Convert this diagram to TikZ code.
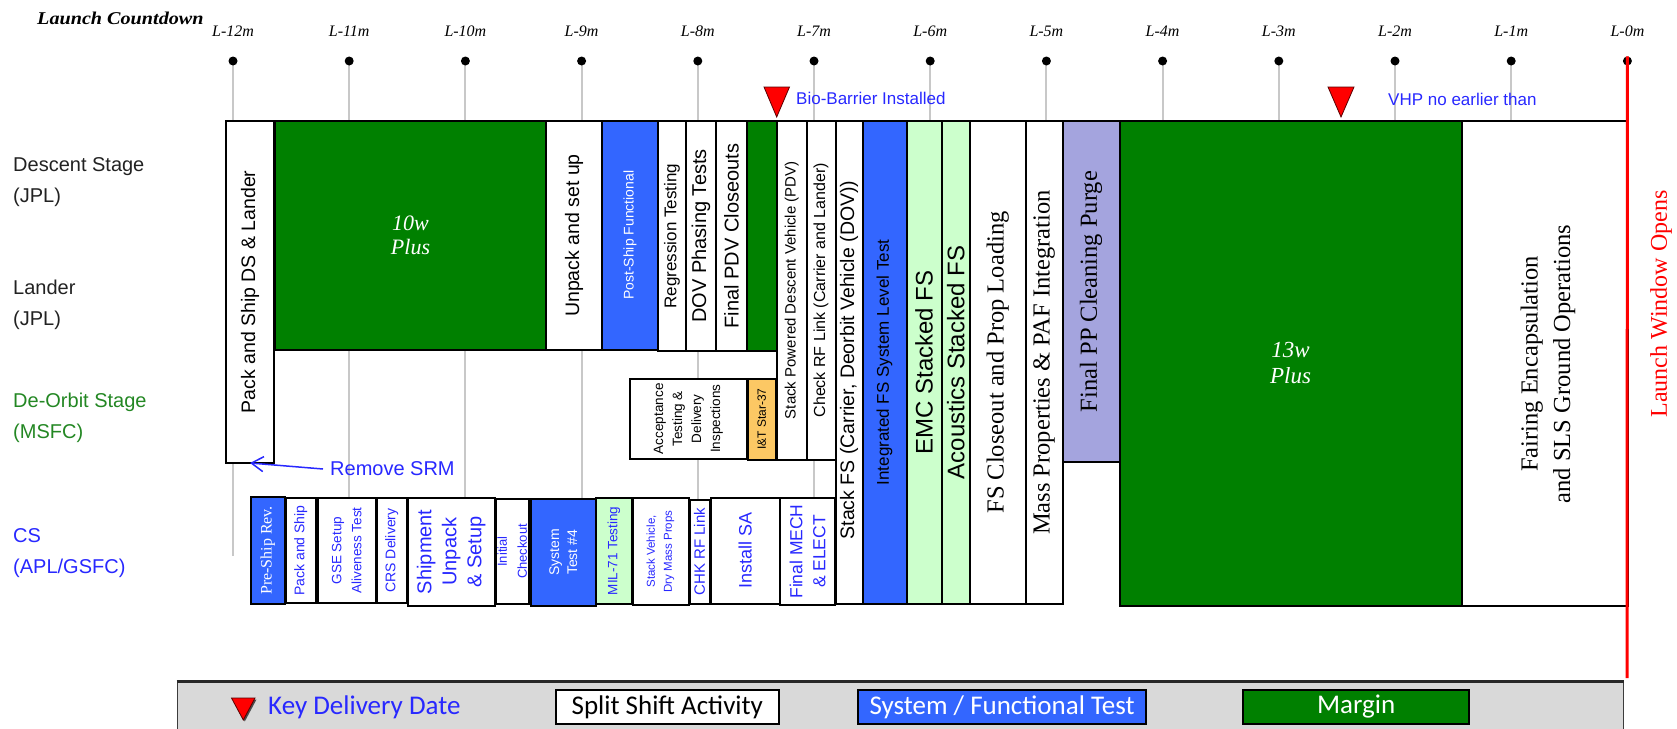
\documentclass[tikz,border=0pt]{standalone}
\usepackage{fontspec}
\setmainfont{Liberation Serif}
\setsansfont{Liberation Sans}
\newfontfamily\legendfont{Carlito}
\usetikzlibrary{arrows.meta}

\definecolor{margin}{RGB}{0,128,0}
\definecolor{sysblue}{RGB}{51,102,255}
\definecolor{paleg}{RGB}{204,255,204}
\definecolor{lav}{RGB}{164,164,222}
\definecolor{starorange}{RGB}{252,200,100}
\definecolor{txtblue}{RGB}{40,40,255}
\definecolor{deorbit}{RGB}{35,135,35}
\definecolor{tickgrey}{RGB}{200,200,200}
\definecolor{legbg}{RGB}{217,217,217}
\definecolor{rowtext}{RGB}{34,34,34}
\definecolor{legedge}{RGB}{60,60,60}
\definecolor{legtop}{RGB}{40,40,40}
\definecolor{tridark}{RGB}{90,0,0}

\newcommand\fz[2]{\fontsize{#1}{#2}\selectfont}
% box: name, style, x1, y1, x2, y2 (pixel coordinates, y downwards)
\newcommand\bx[6]{\node[#2, anchor=north west, minimum width={(#5)-(#3)}, minimum height={(#6)-(#4)}] (#1) at (#3,#4) {};}
% rotated caption centred on a box
\newcommand\vtx[3]{\node[vt, #2] (#1-t) at (#1.center) {#3};}

\begin{document}
\begin{tikzpicture}[x=1pt, y=-1pt,
  box/.style={draw=black, line width=2pt, inner sep=0pt, outer sep=0pt},
  wbox/.style={box, fill=white},
  gbox/.style={box, fill=margin},
  bbox/.style={box, fill=sysblue},
  lgbox/.style={box, fill=paleg},
  lavbox/.style={box, fill=lav},
  obox/.style={box, fill=starorange},
  vt/.style={rotate=90, align=center, inner sep=0pt},
  sans/.style={font=\sffamily\fz{#1}{#1}},
  tickline/.style={draw=tickgrey, line width=2pt},
  keytri/.style={fill=red, draw=tridark, line width=0.8pt},
  srmarrow/.style={draw=txtblue, line width=1.5pt, -{Straight Barb[length=12pt, width=15pt, line width=1.5pt]}},
  legbox/.style={draw=black, line width=2pt, minimum width=#1, minimum height=34, inner sep=0pt},
  legtext/.style={font=\legendfont\fz{27}{30}},
  rowlab/.style={anchor=west, align=left, inner sep=0pt, font=\sffamily\fz{20}{31}}
]
\useasboundingbox (0,0) rectangle (1677,728);

% ---------- timeline heading and month ticks ----------
\node[anchor=west, inner sep=0pt] (title) at (37,18)
  {\scalebox{1.12}[1]{\fz{18}{21}\bfseries\itshape Launch Countdown}};
\foreach \i in {0,...,12}{
  \pgfmathsetmacro\xx{233+116.2*\i}
  \pgfmathtruncatemacro\m{12-\i}
  \node[font=\fz{16}{19}\itshape, inner sep=0pt] (lab\i) at (\xx,31) {L-\m m};
  \coordinate (foot\i) at (\xx,556);
  \ifnum\i<12 \draw[tickline] (\xx,61) -- (foot\i); \fi
  \node[circle, fill=black, inner sep=0pt, minimum size=9] (dot\i) at (\xx,61) {};
}

% ---------- row labels ----------
\node[rowlab, text=rowtext] (rDS) at (13,182) {Descent Stage\\(JPL)};
\node[rowlab, text=rowtext] (rLA) at (13,305) {Lander\\(JPL)};
\node[rowlab, text=deorbit] (rDO) at (13,418) {De-Orbit Stage\\(MSFC)};
\node[rowlab, text=txtblue] (rCS) at (13,553) {CS\\(APL/GSFC)};

% ---------- upper activities ----------
\bx{pack}{wbox}{226}{121}{274}{463}
\bx{m10}{gbox}{275}{121}{546}{350}
\bx{unpack}{wbox}{546}{121}{602}{350}
\bx{psf}{bbox}{602}{121}{658}{349.5}
\bx{regr}{wbox}{658}{121}{686}{351}
\bx{dov}{wbox}{686}{121}{716}{351}
\bx{pdvc}{wbox}{716}{121}{747}{351}
\bx{m1}{gbox}{747}{121}{777}{351}
\bx{spdv}{wbox}{777}{121}{806.5}{459.5}
\bx{crf}{wbox}{806.5}{121}{835.5}{459.5}
\bx{sfs}{wbox}{835.5}{121}{862.5}{604}
\bx{ifs}{bbox}{862.5}{121}{906.5}{604}
\bx{emc}{lgbox}{906.5}{121}{941.5}{604}
\bx{acou}{lgbox}{941.5}{121}{970}{604}
\bx{fscl}{wbox}{970}{121}{1025.5}{604}
\bx{mass}{wbox}{1025.5}{121}{1062.5}{604}
\bx{fpp}{lavbox}{1062.5}{121}{1119.5}{462}
\bx{m13}{gbox}{1119.5}{121}{1461.5}{606}
\bx{fair}{wbox}{1461.5}{121}{1628}{606}
\bx{acc}{wbox}{629.5}{379}{747}{458.5}
\bx{star}{obox}{748}{378.5}{775.5}{460}

\vtx{pack}{sans=19.5}{Pack and Ship DS \& Lander}
\node[align=center, text=white, font=\fz{22}{24}\itshape] (m10-t) at (m10.center) {10w\\Plus};
\vtx{unpack}{sans=19.5}{Unpack and set up}
\vtx{psf}{sans=14, text=white}{Post-Ship Functional}
\vtx{regr}{sans=17}{Regression Testing}
\vtx{dov}{sans=20}{DOV Phasing Tests}
\vtx{pdvc}{sans=20}{Final PDV Closeouts}
\vtx{spdv}{sans=15}{Stack Powered Descent Vehicle (PDV)}
\vtx{crf}{sans=16}{Check RF Link (Carrier and Lander)}
\node[vt, sans=19.5] (sfs-t) at (849,360) {Stack FS (Carrier, Deorbit Vehicle (DOV))};
\vtx{ifs}{sans=17}{Integrated FS System Level Test}
\vtx{emc}{sans=24}{EMC Stacked FS}
\vtx{acou}{sans=24}{Acoustics Stacked FS}
\vtx{fscl}{font=\fz{24.5}{28}}{FS Closeout and Prop Loading}
\vtx{mass}{font=\fz{24.5}{28}}{Mass Properties \& PAF Integration}
\vtx{fpp}{font=\fz{24.5}{28}}{Final PP Cleaning Purge}
\node[align=center, text=white, font=\fz{23}{26}\itshape] (m13-t) at (m13.center) {13w\\Plus};
\node[vt, font=\fz{24.5}{32.5}] (fair-t) at (1548,364) {Fairing Encapsulation\\and SLS Ground Operations};
\vtx{acc}{font=\sffamily\fz{13.5}{19}}{Acceptance\\Testing \&\\Delivery\\Inspections}
\vtx{star}{sans=12}{I\&T Star-37}

% ---------- CS activities ----------
\bx{psr}{bbox}{251}{497}{284.5}{604}
\bx{cpack}{wbox}{285.5}{498}{316}{603}
\bx{gse}{wbox}{318}{498}{375.5}{603}
\bx{crs}{wbox}{376.5}{498}{407}{603}
\bx{ship}{wbox}{408}{498}{494.5}{605.5}
\bx{init}{wbox}{495.5}{499}{529}{604}
\bx{st4}{bbox}{530.5}{499}{596}{605.5}
\bx{mil}{lgbox}{596}{498}{632}{603.5}
\bx{svdm}{wbox}{632.5}{498}{688.5}{605}
\bx{chk}{wbox}{689.5}{500}{709.5}{603.5}
\bx{isa}{wbox}{711}{498}{779.5}{603.5}
\bx{fme}{wbox}{780}{498}{835}{605}

\vtx{psr}{font=\fz{16}{18}, text=white}{Pre-Ship Rev.}
\vtx{cpack}{sans=14, text=txtblue}{Pack and Ship}
\vtx{gse}{font=\sffamily\fz{13.5}{20}, text=txtblue}{GSE Setup\\Aliveness Test}
\vtx{crs}{sans=14, text=txtblue}{CRS Delivery}
\vtx{ship}{font=\sffamily\fz{20}{25}, text=txtblue}{Shipment\\Unpack\\\& Setup}
\vtx{init}{font=\sffamily\fz{13}{20}, text=txtblue}{Initial\\Checkout}
\vtx{st4}{font=\sffamily\fz{14}{18}, text=white}{System\\Test \#4}
\vtx{mil}{sans=13.5, text=txtblue}{MIL-71 Testing}
\vtx{svdm}{font=\sffamily\fz{11.5}{17}, text=txtblue}{Stack Vehicle,\\Dry Mass Props}
\vtx{chk}{sans=15, text=txtblue}{CHK RF Link}
\vtx{isa}{sans=18, text=txtblue}{Install SA}
\vtx{fme}{font=\sffamily\fz{17.5}{23}, text=txtblue}{Final MECH\\\& ELECT}

% ---------- annotations ----------
\node[anchor=west, inner sep=0pt, text=txtblue, sans=20] (srm) at (323,469) {\hspace{7pt}Remove SRM};
\draw[srmarrow] (srm.west) -- (pack.south);

\coordinate (bioL) at (764,87);
\coordinate (bioR) at (789.5,87);
\coordinate (bioA) at (776.7,117);
\draw[keytri] (bioL) -- (bioR) -- (bioA) -- cycle;
\node[anchor=west, inner sep=0pt, text=txtblue, sans=17] (bio) at (796,98) {Bio-Barrier Installed};

\coordinate (vhpL) at (1328,87);
\coordinate (vhpR) at (1354,87);
\coordinate (vhpA) at (1341,117);
\draw[keytri] (vhpL) -- (vhpR) -- (vhpA) -- cycle;
\node[anchor=west, inner sep=0pt, text=txtblue, sans=17] (vhp) at (1388,99) {VHP no earlier than};

% launch window
\coordinate (redfoot) at (1627,678);
\draw[red, line width=3pt] (dot12.north) -- (redfoot);
\node[vt, text=red, font=\fz{24}{27}] (lwo) at (1661,304) {Launch Window Opens};

% ---------- legend ----------
\node[draw=legedge, line width=1pt, fill=legbg, anchor=north west,
      minimum width=1446, minimum height=60, inner sep=0pt] (legend) at (176.5,681) {};
\draw[line width=3pt, legtop] (legend.north west) -- (legend.north east);

\coordinate (kL) at (231.5,698);
\coordinate (kR) at (255,698);
\coordinate (kA) at (243.3,720);
\fill[black!70] ([shift={(1.5,1.5)}]kL) -- ([shift={(1.5,1.5)}]kR) -- ([shift={(1.5,1.5)}]kA) -- cycle;
\draw[keytri] (kL) -- (kR) -- (kA) -- cycle;
\node[anchor=west, inner sep=0pt, text=txtblue, legtext] (kdd) at (268,707) {Key Delivery Date};

\node[legbox=222.6, fill=white, legtext] (ssa) at (667.3,707) {Split Shift Activity};
\node[legbox=288.7, fill=sysblue, text=white, legtext] (sft) at (1002.1,707) {System / Functional Test};
\node[legbox=226.7, fill=margin, text=white, legtext] (mrg) at (1356.1,707) {Margin};
\end{tikzpicture}
\end{document}
